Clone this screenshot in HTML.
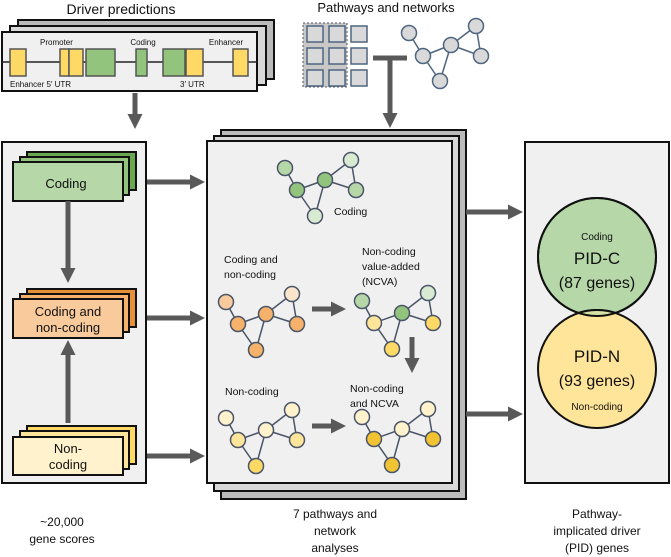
<!DOCTYPE html>
<html><head><meta charset="utf-8"><style>
html,body{margin:0;padding:0;background:#fff}
svg{display:block}
text{font-family:"Liberation Sans",Arial,sans-serif;fill:#111}
</style></head><body>
<svg width="671" height="557" viewBox="0 0 671 557" xmlns="http://www.w3.org/2000/svg">
<defs>
<marker id="ah" markerWidth="3" markerHeight="3" refX="0" refY="1.5" orient="auto" markerUnits="strokeWidth">
<path d="M0,0 L3,1.5 L0,3 Z" fill="#595959"/>
</marker>
<g id="net">
<line x1="0" y1="0" x2="12" y2="22" />
<line x1="12" y1="22" x2="40" y2="12" />
<line x1="12" y1="22" x2="30" y2="48" />
<line x1="40" y1="12" x2="30" y2="48" />
<line x1="40" y1="12" x2="66" y2="-8" />
<line x1="66" y1="-8" x2="71" y2="22" />
<line x1="40" y1="12" x2="71" y2="22" />
</g>
<clipPath id="gc"><circle cx="597" cy="257" r="59"/></clipPath>
</defs>

<!-- Driver predictions -->
<text x="121" y="14" font-size="14" text-anchor="middle">Driver predictions</text>
<rect x="18" y="20" width="256" height="59" fill="#bbb" stroke="#111" stroke-width="2"/>
<rect x="10" y="26" width="256" height="59" fill="#d8d8d8" stroke="#111" stroke-width="2"/>
<rect x="2" y="32" width="255" height="59" fill="#f0f0f0" stroke="#111" stroke-width="2"/>
<line x1="2" y1="62" x2="257" y2="62" stroke="#222" stroke-width="1.5"/>
<g stroke="#555" stroke-width="1.5">
<rect x="10" y="49" width="16" height="27" fill="#ffd966"/>
<rect x="60" y="49" width="9" height="27" fill="#ffd966"/>
<rect x="69" y="49" width="14" height="27" fill="#ffd966"/>
<rect x="86" y="49" width="29" height="27" fill="#93c47d"/>
<rect x="136" y="49" width="11" height="27" fill="#93c47d"/>
<rect x="163" y="49" width="22" height="27" fill="#93c47d"/>
<rect x="186" y="49" width="17" height="27" fill="#ffd966"/>
<rect x="233" y="49" width="15" height="27" fill="#ffd966"/>
</g>
<text x="40" y="45" font-size="8">Promoter</text>
<text x="143" y="45" font-size="8" text-anchor="middle">Coding</text>
<text x="226" y="45" font-size="8" text-anchor="middle">Enhancer</text>
<text x="10" y="87" font-size="8">Enhancer 5′ UTR</text>
<text x="180" y="87" font-size="8">3′ UTR</text>
<line x1="135" y1="93" x2="135" y2="114" stroke="#595959" stroke-width="5" marker-end="url(#ah)"/>

<!-- Pathways -->
<text x="386" y="12" font-size="13" text-anchor="middle">Pathways and networks</text>
<rect x="303" y="23" width="44" height="64" fill="#c8c8c8" stroke="#556" stroke-width="1" stroke-dasharray="2,2"/>
<g fill="#d9d9d9" stroke="#4f6580" stroke-width="1.5">
<rect x="307" y="26" width="16" height="16"/><rect x="329" y="26" width="16" height="16"/><rect x="351" y="26" width="16" height="16"/>
<rect x="307" y="48" width="16" height="16"/><rect x="329" y="48" width="16" height="16"/><rect x="351" y="48" width="16" height="16"/>
<rect x="307" y="70" width="16" height="16"/><rect x="329" y="70" width="16" height="16"/><rect x="351" y="70" width="16" height="16"/>
</g>
<g stroke="#4f6580" stroke-width="1.5">
<line x1="409" y1="33" x2="423" y2="56"/><line x1="423" y1="56" x2="451" y2="45"/><line x1="423" y1="56" x2="440" y2="81"/>
<line x1="451" y1="45" x2="440" y2="81"/><line x1="451" y1="45" x2="476" y2="26"/><line x1="476" y1="26" x2="481" y2="56"/><line x1="451" y1="45" x2="481" y2="56"/>
</g>
<g fill="#d9d9d9" stroke="#4f6580" stroke-width="1.5">
<circle cx="409" cy="33" r="7.5"/><circle cx="423" cy="56" r="7.5"/><circle cx="451" cy="45" r="7.5"/>
<circle cx="476" cy="26" r="7.5"/><circle cx="481" cy="56" r="7.5"/><circle cx="440" cy="81" r="7.5"/>
</g>
<line x1="373" y1="58" x2="407" y2="58" stroke="#595959" stroke-width="5"/>
<line x1="390" y1="58" x2="390" y2="113" stroke="#595959" stroke-width="5" marker-end="url(#ah)"/>

<!-- Left box -->
<rect x="2" y="142" width="144" height="341" fill="#f0f0f0" stroke="#111" stroke-width="2"/>
<g stroke="#111" stroke-width="2">
<rect x="27" y="152" width="109" height="38" fill="#6aa84f"/>
<rect x="20" y="157" width="109" height="38" fill="#93c47d"/>
<rect x="13" y="162" width="110" height="39" fill="#b6d7a8"/>
<rect x="27" y="289" width="109" height="38" fill="#e69138"/>
<rect x="20" y="294" width="109" height="38" fill="#f6b26b"/>
<rect x="13" y="299" width="110" height="39" fill="#f9cb9c"/>
<rect x="27" y="426" width="109" height="38" fill="#ffd966"/>
<rect x="20" y="431" width="109" height="38" fill="#ffe599"/>
<rect x="13" y="437" width="110" height="38" fill="#fff2cc"/>
</g>
<text x="66" y="188" font-size="13" text-anchor="middle">Coding</text>
<text x="68" y="316" font-size="13" text-anchor="middle">Coding and</text>
<text x="68" y="332" font-size="13" text-anchor="middle">non-coding</text>
<text x="68" y="453" font-size="13" text-anchor="middle">Non-</text>
<text x="68" y="469" font-size="13" text-anchor="middle">coding</text>
<line x1="68" y1="201" x2="68" y2="268" stroke="#595959" stroke-width="5" marker-end="url(#ah)"/>
<line x1="68" y1="423" x2="68" y2="355" stroke="#595959" stroke-width="5" marker-end="url(#ah)"/>
<g stroke="#595959" stroke-width="5" marker-end="url(#ah)">
<line x1="147" y1="182" x2="190" y2="182"/>
<line x1="147" y1="318" x2="190" y2="318"/>
<line x1="147" y1="456" x2="190" y2="456"/>
</g>

<!-- Middle box -->
<rect x="221" y="130" width="245" height="369" fill="#bbb" stroke="#111" stroke-width="2"/>
<rect x="214" y="136" width="245" height="355" fill="#d8d8d8" stroke="#111" stroke-width="2"/>
<rect x="207" y="141" width="245" height="342" fill="#f0f0f0" stroke="#111" stroke-width="2"/>

<g stroke="#4a5568" stroke-width="1.5" fill="none">
<use href="#net" x="285" y="168"/>
<use href="#net" x="226" y="302"/>
<use href="#net" x="362" y="301"/>
<use href="#net" x="226" y="418"/>
<use href="#net" x="362" y="417"/>
</g>
<g stroke="#4a5568" stroke-width="1.5">
<circle cx="285" cy="168" r="7.5" fill="#b6d7a8"/><circle cx="297" cy="190" r="7.5" fill="#93c47d"/><circle cx="325" cy="180" r="7.5" fill="#93c47d"/><circle cx="351" cy="160" r="7.5" fill="#d9ead3"/><circle cx="356" cy="190" r="7.5" fill="#b6d7a8"/><circle cx="315" cy="216" r="7.5" fill="#d9ead3"/>
<circle cx="226" cy="302" r="7.5" fill="#f9cb9c"/><circle cx="238" cy="324" r="7.5" fill="#f6b26b"/><circle cx="266" cy="314" r="7.5" fill="#f6b26b"/><circle cx="292" cy="294" r="7.5" fill="#fce5cd"/><circle cx="297" cy="324" r="7.5" fill="#f6b26b"/><circle cx="256" cy="350" r="7.5" fill="#f6b26b"/>
<circle cx="362" cy="301" r="7.5" fill="#b6d7a8"/><circle cx="374" cy="323" r="7.5" fill="#ffe599"/><circle cx="402" cy="313" r="7.5" fill="#93c47d"/><circle cx="428" cy="293" r="7.5" fill="#d9ead3"/><circle cx="433" cy="323" r="7.5" fill="#ffd966"/><circle cx="392" cy="349" r="7.5" fill="#ffd966"/>
<circle cx="226" cy="418" r="7.5" fill="#fff2cc"/><circle cx="238" cy="440" r="7.5" fill="#ffe599"/><circle cx="266" cy="430" r="7.5" fill="#fff2cc"/><circle cx="292" cy="410" r="7.5" fill="#fff2cc"/><circle cx="297" cy="440" r="7.5" fill="#ffe599"/><circle cx="256" cy="466" r="7.5" fill="#ffd966"/>
<circle cx="362" cy="417" r="7.5" fill="#fff2cc"/><circle cx="374" cy="439" r="7.5" fill="#f1c232"/><circle cx="402" cy="429" r="7.5" fill="#fff2cc"/><circle cx="428" cy="409" r="7.5" fill="#fff2cc"/><circle cx="433" cy="439" r="7.5" fill="#f1c232"/><circle cx="392" cy="465" r="7.5" fill="#f1c232"/>
</g>
<g font-size="10.5">
<text x="334" y="215">Coding</text>
<text x="224" y="263">Coding and</text>
<text x="224" y="278">non-coding</text>
<text x="362" y="255">Non-coding</text>
<text x="362" y="270">value-added</text>
<text x="362" y="285">(NCVA)</text>
<text x="225" y="395">Non-coding</text>
<text x="350" y="392">Non-coding</text>
<text x="350" y="407">and NCVA</text>
</g>
<g stroke="#595959" stroke-width="5" marker-end="url(#ah)">
<line x1="312" y1="309" x2="331" y2="309"/>
<line x1="312" y1="426" x2="331" y2="426"/>
<line x1="412" y1="337" x2="412" y2="358"/>
</g>
<g stroke="#595959" stroke-width="5" marker-end="url(#ah)">
<line x1="466" y1="212" x2="508" y2="212"/>
<line x1="466" y1="414" x2="508" y2="414"/>
</g>

<!-- Right box -->
<rect x="525" y="142" width="144" height="341" fill="#f0f0f0" stroke="#111" stroke-width="2"/>
<circle cx="597" cy="257" r="59" fill="#b6d7a8" stroke="#111" stroke-width="2"/>
<circle cx="597" cy="369" r="59" fill="#ffe599" stroke="#111" stroke-width="2"/>
<circle cx="597" cy="369" r="59" fill="#d6e2a2" stroke="#111" stroke-width="2" clip-path="url(#gc)"/>
<circle cx="597" cy="257" r="59" fill="none" stroke="#111" stroke-width="2"/>
<text x="597" y="240" font-size="10" text-anchor="middle">Coding</text>
<text x="597" y="264" font-size="17" text-anchor="middle">PID-C</text>
<text x="597" y="288" font-size="16" text-anchor="middle">(87 genes)</text>
<text x="597" y="362" font-size="17" text-anchor="middle">PID-N</text>
<text x="597" y="386" font-size="16" text-anchor="middle">(93 genes)</text>
<text x="597" y="410" font-size="10" text-anchor="middle">Non-coding</text>

<!-- Bottom labels -->
<g font-size="12" text-anchor="middle">
<text x="62" y="526">~20,000</text>
<text x="62" y="543">gene scores</text>
<text x="335" y="518">7 pathways and</text>
<text x="335" y="535">network</text>
<text x="335" y="552">analyses</text>
<text x="597" y="518">Pathway-</text>
<text x="597" y="535">implicated driver</text>
<text x="597" y="552">(PID) genes</text>
</g>
</svg>
</body></html>
